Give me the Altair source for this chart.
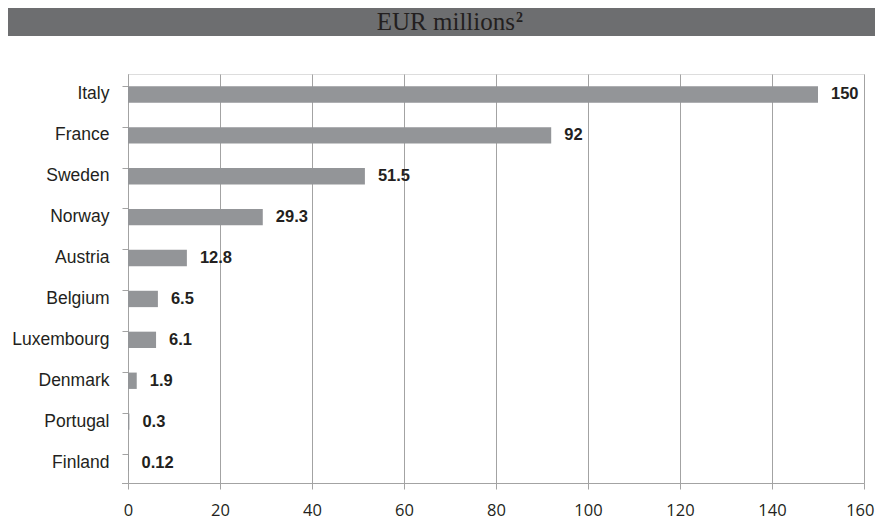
import altair as alt
import pandas as pd

countries = ["Italy", "France", "Sweden", "Norway", "Austria", "Belgium",
             "Luxembourg", "Denmark", "Portugal", "Finland"]
values = [150, 92, 51.5, 29.3, 12.8, 6.5, 6.1, 1.9, 0.3, 0.12]
value_labels = ["150", "92", "51.5", "29.3", "12.8", "6.5", "6.1", "1.9", "0.3", "0.12"]
x_ticks = [0, 20, 40, 60, 80, 100, 120, 140, 160]
title_main = "EUR millions"
title_sup = "2"

W = 736
H = 409
PAD_L, PAD_T, PAD_R, PAD_B = 120, 66, 11, 36

SANS = "Liberation Sans, Arial, sans-serif"

df = pd.DataFrame({"country": countries, "value": values, "label": value_labels})

x_enc = alt.X("value:Q",
              scale=alt.Scale(domain=[0, 160], nice=False),
              axis=alt.Axis(values=x_ticks, title=None, grid=True, gridColor="#a3a3a3",
                            gridWidth=1, domainColor="#a3a3a3", tickColor="#a3a3a3",
                            tickSize=6, labelFont="Open Sans", labelFontSize=16.5,
                            labelColor="#231f20", labelPadding=13, format="d",
                            labelFlush=False, labelBound=False,
                            labelAlign={"condition": {"test": "datum.value == 160", "value": "right"},
                                        "value": "center"},
                            labelOffset={"condition": {"test": "datum.value == 160", "value": 10},
                                         "value": 0}))
y_enc = alt.Y("country:N", sort=countries,
              scale=alt.Scale(paddingInner=0.6, paddingOuter=0.3),
              axis=alt.Axis(title=None, domainColor="#a3a3a3", tickColor="#a3a3a3",
                            tickSize=6, bandPosition=0, labelFont=SANS,
                            labelFontSize=17.5, labelColor="#231f20", labelPadding=13,
                            labelLimit=200))

base = alt.Chart(df)
bars = base.mark_bar(color="#939598").encode(x=x_enc, y=y_enc)
texts = base.mark_text(align="left", baseline="middle", dx=13, font=SANS,
                       fontSize=16.5, fontWeight="bold", color="#231f20").encode(
    x="value:Q", y=alt.Y("country:N", sort=countries), text="label:N")

tick_df = pd.DataFrame({"t": [title_main]})
bottom_tick = alt.Chart(tick_df).mark_rule(color="#a3a3a3").encode(
    x=alt.value(-6), x2=alt.value(0), y=alt.value(H + 0.5))

band = alt.Chart(tick_df).mark_rect(color="#6d6e70").encode(
    x=alt.value(-PAD_L), x2=alt.value(W + PAD_R), y=alt.value(-PAD_T), y2=alt.value(-38))
title1 = alt.Chart(tick_df).mark_text(align="right", baseline="alphabetic",
                                      font="Liberation Serif", fontSize=25,
                                      color="#231f20").encode(
    x=alt.value(387), y=alt.value(-44), text="t:N")
sup = alt.Chart(pd.DataFrame({"s": [title_sup]})).mark_text(
    align="left", baseline="alphabetic", font="Liberation Serif", fontSize=14,
    fontWeight="bold", color="#231f20").encode(
    x=alt.value(388), y=alt.value(-52), text="s:N")

chart = alt.layer(band, title1, sup, bars, texts, bottom_tick).properties(
    width=W, height=H,
    padding={"left": PAD_L, "top": PAD_T, "right": PAD_R, "bottom": PAD_B},
    autosize=alt.AutoSizeParams(type="none"),
).configure_view(stroke=None).configure(background="white")

chart.save("out.html", embed_options={"renderer": "svg", "actions": False})
